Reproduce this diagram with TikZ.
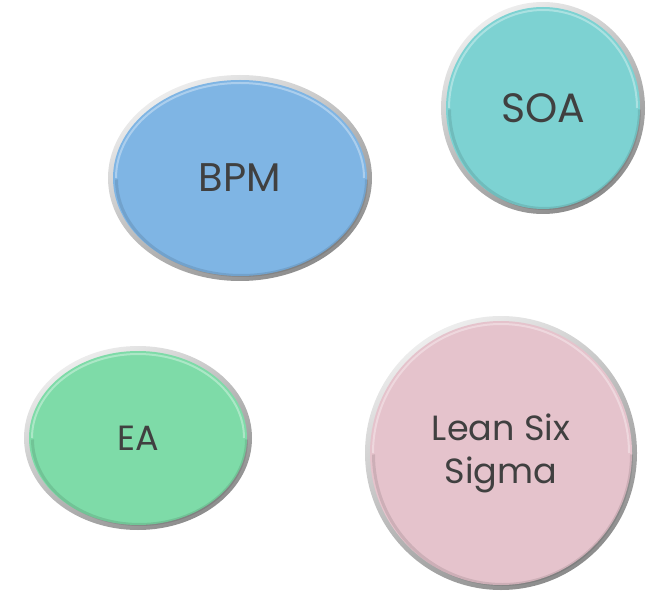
\documentclass[tikz,border=0pt]{standalone}
\usepackage{fontspec}
\setmainfont{Poppins}
\usetikzlibrary{shapes.geometric}
\definecolor{bpmc}{HTML}{7FB5E4}
\definecolor{soac}{HTML}{7DD2D2}
\definecolor{eac}{HTML}{7EDBA8}
\definecolor{leanc}{HTML}{E5C3CC}
\definecolor{txtc}{HTML}{404040}
\definecolor{rimlight}{HTML}{EDEDED}
\definecolor{rimdark}{HTML}{8C8C8C}
\tikzset{
  bubbletext/.style={text=txtc, align=center, inner sep=0pt},
  rim/.style={top color=rimlight, bottom color=rimdark, shading angle=30},
  glint/.style={white, opacity=0.35, line width=2pt},
  shade in/.style={black, opacity=0.10, line width=3pt}
}
\newcommand\bubble[8]{%
  \shade[rim] (#2,#3) ellipse ({#4} and {#5});
  \fill[#6] (#2,#3) ellipse ({#4-5} and {#5-5});
  \draw[shade in] ([shift={(1.5,1.5)}]#2,#3) ++(0:{#4-7}) arc[start angle=0, end angle=180, x radius={#4-7}, y radius={#5-7}];
  \draw[glint] (#2,#3) ++(180:{#4-8}) arc[start angle=180, end angle=360, x radius={#4-8}, y radius={#5-8}];
  \node[bubbletext, font=#8] (#1) at (#2,#3) {#7};
}
\begin{document}
\begin{tikzpicture}[x=1pt,y=-1pt]
\useasboundingbox (0,0) rectangle (650,593);
\bubble{bpm}{240}{178}{132}{103}{bpmc}{BPM}{\fontsize{40}{44}\selectfont}
\bubble{soa}{543}{108}{102}{106}{soac}{SOA}{\fontsize{41}{44}\selectfont}
\bubble{ea}{138}{438}{114}{92}{eac}{EA}{\fontsize{35}{40}\selectfont}
\bubble{lean}{501}{453}{136}{137}{leanc}{Lean Six\\Sigma}{\fontsize{35}{43}\selectfont}
\end{tikzpicture}
\end{document}
